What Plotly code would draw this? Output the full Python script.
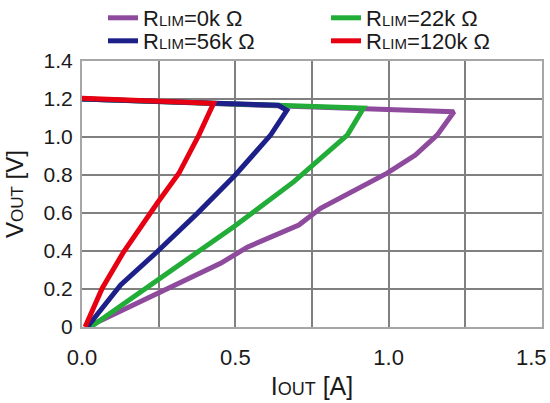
import plotly.graph_objects as go

# ---- data ----
series_names = ["0k", "22k", "56k", "120k"]

x_0k = [0.0, 0.92, 1.213, 1.158, 1.087, 0.995, 0.865, 0.778, 0.707, 0.539, 0.452, 0.245, 0.017]
y_0k = [1.2, 1.154, 1.133, 1.01, 0.905, 0.81, 0.695, 0.625, 0.537, 0.42, 0.335, 0.177, 0.0]

x_22k = [0.0, 0.5, 0.918, 0.865, 0.756, 0.691, 0.495, 0.245, 0.115, 0.028]
y_22k = [1.2, 1.174, 1.152, 1.01, 0.86, 0.765, 0.528, 0.247, 0.098, 0.0]

x_56k = [0.0, 0.3, 0.64, 0.668, 0.615, 0.5, 0.376, 0.245, 0.126, 0.017]
y_56k = [1.2, 1.186, 1.167, 1.14, 1.01, 0.8, 0.598, 0.396, 0.221, 0.0]

x_120k = [0.0, 0.25, 0.429, 0.381, 0.316, 0.245, 0.136, 0.066, 0.01]
y_120k = [1.204, 1.188, 1.177, 1.01, 0.809, 0.651, 0.396, 0.204, 0.0]

x_tickvals = [0.0, 0.25, 0.5, 0.75, 1.0, 1.25, 1.5]
x_ticktext = ["0.0", "", "0.5", "", "1.0", "", ""]
x_last_label = "1.5"   # drawn as an annotation so it stays inside the page
y_tickvals = [0.0, 0.2, 0.4, 0.6, 0.8, 1.0, 1.2, 1.4]
y_ticktext = ["0", "0.2", "0.4", "0.6", "0.8", "1.0", "1.2", "1.4"]

colors = ["#8E4A9C", "#22AC38", "#1D2088", "#E60012"]
legend_ids = ["legend", "legend", "legend2", "legend2"]
xs = [x_0k, x_22k, x_56k, x_120k]
ys = [y_0k, y_22k, y_56k, y_120k]

FONT = "Liberation Sans, Arial, sans-serif"


def small(t, size):
    return "<span style='font-size:%dpx'>%s</span>" % (size, t)


fig = go.Figure()
for name, x, y, c, lg in zip(series_names, xs, ys, colors, legend_ids):
    fig.add_trace(go.Scatter(
        x=x, y=y, mode="lines",
        line=dict(color=c, width=5),
        name="R" + small("LIM", 15) + "=" + name + " \u03a9",
        legend=lg,
    ))

W, H = 550, 403
leg_common = dict(
    orientation="h", xref="container", yref="container",
    xanchor="left", yanchor="middle",
    entrywidth=178, entrywidthmode="pixels",
    font=dict(size=22, color="#1a1a1a"), bgcolor="rgba(0,0,0,0)",
    borderwidth=0,
)

fig.update_layout(
    width=W, height=H,
    margin=dict(l=81.5, r=8.3, t=61, b=75.7, autoexpand=False),
    paper_bgcolor="white", plot_bgcolor="white",
    font=dict(family=FONT, size=21, color="#1a1a1a"),
    legend=dict(x=103 / W, y=1 - 18 / H, **leg_common),
    legend2=dict(x=103 / W, y=1 - 41 / H, **leg_common),
    xaxis=dict(
        range=[0, 1.5], tickvals=x_tickvals, ticktext=x_ticktext,
        showgrid=True, gridcolor="#808080", gridwidth=2,
        showline=True, linecolor="#a6a6a6", linewidth=2, mirror=True,
        zeroline=False, ticks="", tickfont=dict(size=22),
        ticklabeloverflow="allow", ticklabelstandoff=10,
        title=dict(text="I" + small("OUT", 18) + " [A]", font=dict(size=25), standoff=8),
    ),
    yaxis=dict(
        range=[0, 1.4], tickvals=y_tickvals, ticktext=y_ticktext,
        showgrid=True, gridcolor="#808080", gridwidth=2,
        showline=True, linecolor="#a6a6a6", linewidth=2, mirror=True,
        zeroline=False, ticks="", tickfont=dict(size=21),
        ticklabelstandoff=3,
        title=dict(text="V" + small("OUT", 17) + " [V]", font=dict(size=24), standoff=13),
    ),
    annotations=[dict(
        x=x_tickvals[-1], xref="x", y=0, yref="paper",
        text=x_last_label, showarrow=False,
        xanchor="right", yanchor="middle", xshift=7, yshift=-30,
        font=dict(size=22, family=FONT, color="#1a1a1a"),
    )],
)

fig.write_html("out.html")
